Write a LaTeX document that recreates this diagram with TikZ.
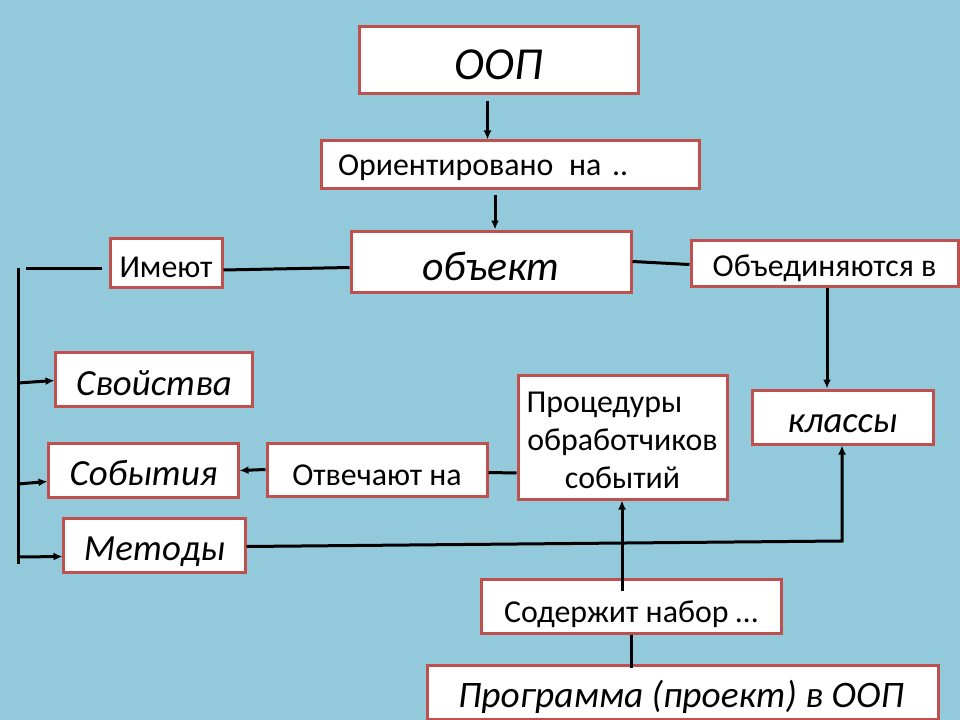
\documentclass[tikz,border=0pt]{standalone}
\usepackage{fontspec}
\setmainfont{Carlito}
\usetikzlibrary{arrows.meta}
\definecolor{bg}{RGB}{146,202,220}
\definecolor{bord}{RGB}{192,80,77}
\begin{document}
\begin{tikzpicture}[x=1bp,y=-1bp,
  box/.style={draw=bord, line width=3bp, fill=white, inner sep=0pt, font=\fontsize{32}{37}\selectfont, text depth=0bp},
  ibox/.style={box, font=\fontsize{37}{42}\selectfont\itshape},
  con/.style={line width=3bp, black},
  arr/.style={con, -{Latex[length=9bp,width=8bp]}}]
\useasboundingbox (0,0) rectangle (960,720);
\fill[bg] (0,0) rectangle (960,720);
% boxes
\node[ibox, minimum width=279bp, minimum height=67bp, font=\fontsize{46}{50}\selectfont\itshape, text height=39bp] (oop) at (498.5,60.5) {ООП};
\node[box, minimum height=47bp, text width=344bp, inner xsep=17bp, align=left, text height=23bp] (orient) at (510,164.5) {Ориентировано\hspace{5bp} на ..};
\node[ibox, minimum width=280bp, minimum height=61bp, font=\fontsize{42}{46}\selectfont\itshape, text height=38bp] (obj) at (491,261.5) {объект};
\node[box, minimum width=112bp, minimum height=49bp, text height=28bp] (imeut) at (166,263) {Имеют};
\node[box, minimum width=267bp, minimum height=46bp, text height=25bp] (obyed) at (824.5,263.5) {Объединяются в};
\node[ibox, minimum width=196bp, minimum height=54bp, text height=31bp] (svoi) at (154,379.5) {Свойства};
\node[ibox, minimum width=181bp, minimum height=54bp, text height=31bp] (klassy) at (842.5,417) {классы};
\node[box, minimum width=209bp, minimum height=124bp, align=center, font=\fontsize{32}{38}\selectfont] (proc) at (622.5,437) {\rule{0pt}{27bp}Процедуры\hspace*{36bp}\\обработчиков\\событий};
\node[ibox, minimum width=189bp, minimum height=54bp, text height=29bp] (sobyt) at (143.5,470.5) {События};
\node[box, minimum width=220bp, minimum height=53bp, text height=32bp] (otvech) at (377,469.5) {Отвечают на};
\node[ibox, minimum width=181bp, minimum height=54bp, text height=29bp] (metody) at (154.5,545.5) {Методы};
\node[box, minimum width=300bp, minimum height=54bp, text height=32bp] (sod) at (631,606) {Содержит набор …};
\node[ibox, minimum width=511bp, minimum height=54bp, font=\fontsize{37.5}{42}\selectfont\itshape, text height=30bp] (prog) at (683,692) {Программа (проект) в ООП\hspace*{4bp}};
% coordinates of the left bus
\coordinate (hl) at (26,268);
\coordinate (hr) at (102,268);
\coordinate (vt) at (18,268);
\coordinate (vb) at (18,564);
\coordinate (b1) at (18,383);
\coordinate (b2) at (18,484);
\coordinate (b3) at (18,557);
\coordinate (mk) at (842,541);
% connectors
\draw[arr] ([xshift=-11bp,yshift=-6bp]oop.south) -- ([xshift=-11bp]oop.south |- orient.north);
\draw[arr] ([xshift=-15bp,yshift=-5bp]orient.south) -- ([xshift=-15bp]orient.south |- obj.north);
\draw[con] ([yshift=-6bp]obj.west) -- ([yshift=-7bp]imeut.east);
\draw[con] (hr) -- (hl);
\draw[con] (vt) -- (vb);
\draw[arr] (b1) -- ([yshift=-1bp]svoi.west);
\draw[arr] (b2) -- ([yshift=-11bp]sobyt.west);
\draw[arr] (b3) -- ([yshift=-11bp]metody.west);
\draw[con] (obj.east) -- ([yshift=-1bp]obyed.west);
\draw[arr] ([xshift=2.5bp]obyed.south) -- ([xshift=2.5bp]obyed.south |- klassy.north);
\draw[arr] ([yshift=-1bp]metody.east) -- (mk) -- (mk |- klassy.south);
\draw[con] ([yshift=-36bp]proc.west) -- ([yshift=-3bp]otvech.east);
\draw[arr] (otvech.west) -- (sobyt.east);
\draw[arr] ([xshift=-9bp,yshift=-13bp]sod.north) -- ([xshift=-9bp]sod.north |- proc.south);
\draw[con] (sod.south) -- ([yshift=-4bp]sod.south |- prog.north);
\end{tikzpicture}
\end{document}
